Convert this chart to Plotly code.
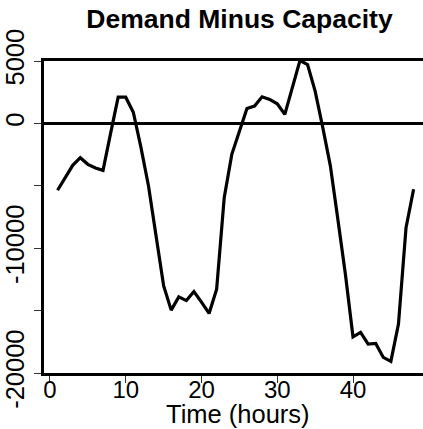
import plotly.graph_objects as go

hours = list(range(1, 49))
demand_minus_capacity = [
    -5360, -4350, -3360, -2750, -3280, -3570, -3760, -800, 2100, 2100,
    900, -1900, -5000, -9000, -13000, -14960, -13900, -14200, -13470, -14320,
    -15230, -13280, -5950, -2480, -600, 1200, 1390, 2130, 1920, 1570,
    720, 2800, 5040, 4720, 2590, -300, -3360, -7680, -12100, -17100,
    -16750, -17680, -17630, -18750, -19070, -16080, -8350, -5280,
]
x_ticks = [0, 10, 20, 30, 40]
y_ticks = [-20000, -15000, -10000, -5000, 0, 5000]
y_tick_text = ["-20000", "", "-10000", "", "0", "5000"]

FONT = "Liberation Sans, Arial, Helvetica, sans-serif"
W, H = 423, 429
L, T, B = 44, 61, 56

fig = go.Figure()
fig.add_trace(go.Scatter(
    x=hours, y=demand_minus_capacity, mode="lines",
    line=dict(color="black", width=3.2),
    hoverinfo="skip", showlegend=False,
))

fig.update_layout(
    width=W, height=H,
    margin=dict(l=L, r=0, t=T, b=B, pad=0),
    paper_bgcolor="white", plot_bgcolor="white",
    font=dict(family=FONT, color="black"),
    title=dict(
        text="<b>Demand Minus Capacity</b>",
        font=dict(family=FONT, size=26.5, color="black"),
        x=239.5 / W, xanchor="center", xref="container",
        y=1 - 19 / H, yanchor="middle", yref="container",
    ),
    xaxis=dict(
        range=[-0.79, 49.24],
        tickmode="array", tickvals=x_ticks, ticktext=[str(v) for v in x_ticks],
        ticks="outside", ticklen=7, tickwidth=1, tickcolor="#333",
        tickfont=dict(size=24, color="black"),
        ticklabelstandoff=-14,
        showgrid=False, zeroline=False,
        showline=True, linecolor="black", linewidth=3, mirror=True,
    ),
    yaxis=dict(
        range=[-20000, 5000],
        tickmode="array", tickvals=y_ticks, ticktext=y_tick_text,
        ticks="outside", ticklen=7, tickwidth=1, tickcolor="#333",
        tickangle=-90,
        tickfont=dict(size=25.5, color="black"),
        showgrid=False,
        zeroline=True, zerolinecolor="black", zerolinewidth=3,
        showline=True, linecolor="black", linewidth=3,
    ),
    annotations=[dict(
        text="Time (hours)", showarrow=False,
        xref="paper", yref="paper",
        x=(238 - L) / (W - L), xanchor="center",
        y=-(413.5 - (H - B)) / (H - T - B), yanchor="middle",
        font=dict(family=FONT, size=25.5, color="black"),
    )],
)

fig.write_html("out.html")
